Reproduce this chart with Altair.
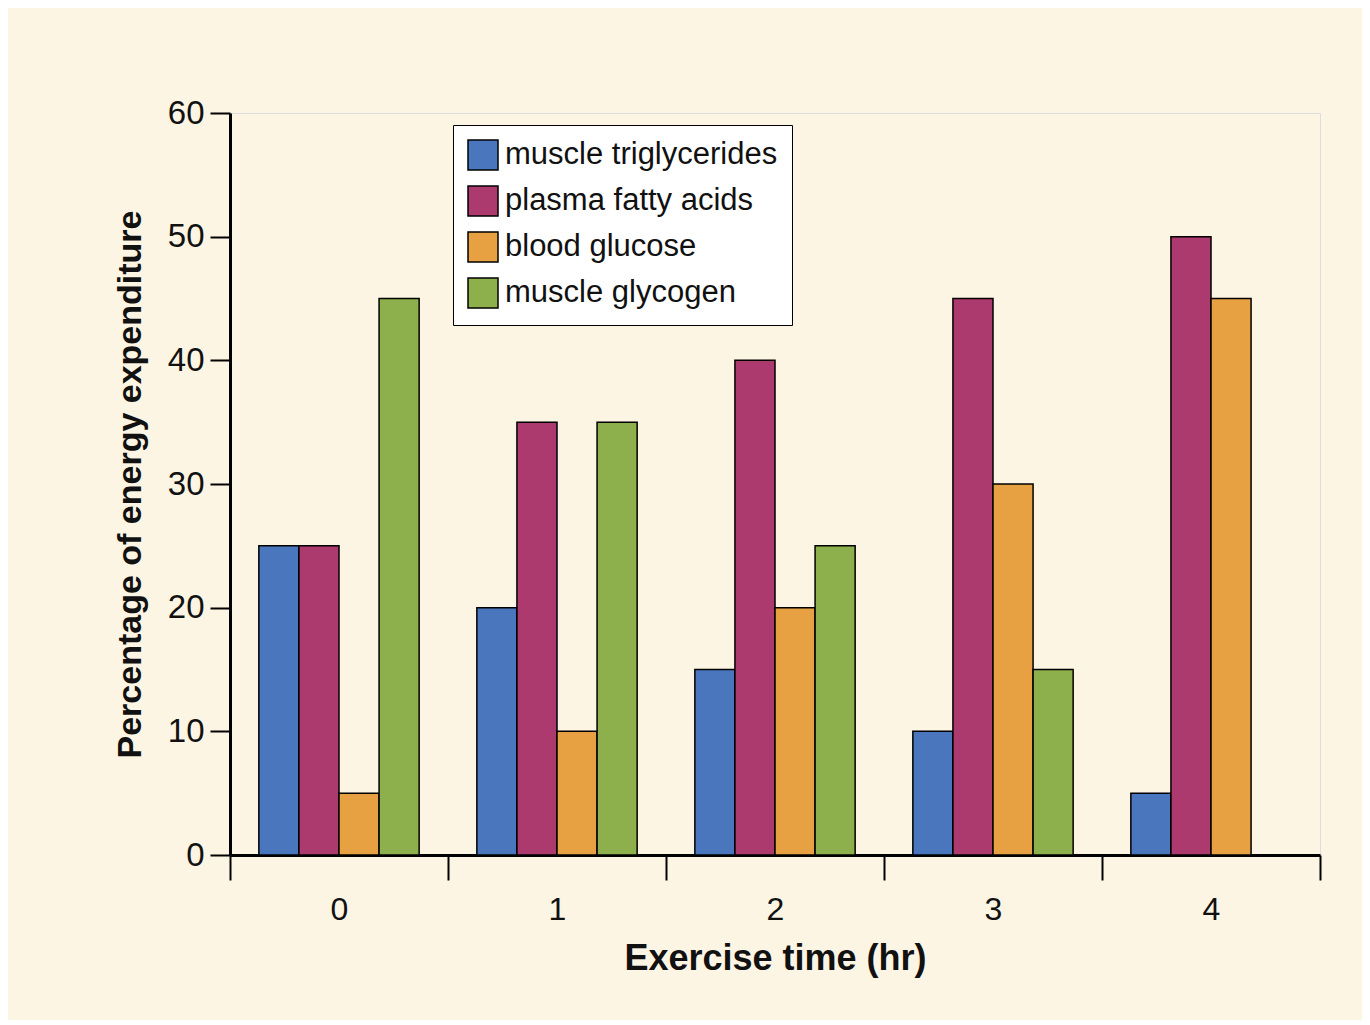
import pandas as pd
import altair as alt

hours = ["0", "1", "2", "3", "4"]
sources = ["muscle triglycerides", "plasma fatty acids", "blood glucose", "muscle glycogen"]
colors = ["#4a76bd", "#ad3a6f", "#e7a042", "#8db04c"]
triglycerides = [25, 20, 15, 10, 5]
fatty_acids = [25, 35, 40, 45, 50]
glucose = [5, 10, 20, 30, 45]
glycogen = [45, 35, 25, 15, None]

rows = []
for src, vals in zip(sources, [triglycerides, fatty_acids, glucose, glycogen]):
    for h, v in zip(hours, vals):
        rows.append({"hour": h, "source": src, "pct": v})
df = pd.DataFrame(rows)
df = df.dropna()

chart = alt.Chart(df).mark_bar(stroke="black", strokeWidth=1.5).encode(
    x=alt.X("hour:N", title="Exercise time (hr)",
            scale=alt.Scale(paddingInner=0, paddingOuter=0),
            axis=alt.Axis(labelAngle=0, tickBand="extent", tickSize=25, tickWidth=2,
                          domainWidth=3, domainColor="black", tickColor="black",
                          labelFontSize=32, labelPadding=14, titleFontSize=36,
                          titleFontWeight="bold", titlePadding=16)),
    xOffset=alt.XOffset("source:N", sort=sources,
                        scale=alt.Scale(paddingInner=0, paddingOuter=0.72)),
    y=alt.Y("pct:Q", title="Percentage of energy expenditure",
            scale=alt.Scale(domain=[0, 60]),
            axis=alt.Axis(values=[0, 10, 20, 30, 40, 50, 60], grid=False, tickSize=20,
                          tickWidth=2, domainWidth=3, domainColor="black", tickColor="black",
                          labelFontSize=33, labelPadding=6, titleFontSize=34,
                          titleFontWeight="bold", titlePadding=20)),
    color=alt.Color("source:N", sort=sources, title=None,
                    scale=alt.Scale(domain=sources, range=colors),
                    legend=alt.Legend(orient="none", legendX=223, legendY=12,
                                      fillColor="white", strokeColor="black",
                                      padding=14, symbolType="square", symbolSize=900,
                                      symbolStrokeColor="black", symbolStrokeWidth=1.5,
                                      labelFontSize=31, labelColor="#111", labelLimit=400,
                                      rowPadding=10, labelOffset=6)),
).properties(
    width=1090, height=742,
    autosize=alt.AutoSizeParams(type="none"),
    padding={"left": 222, "top": 105, "right": 42, "bottom": 165},
    background="#fdf5e4",
).configure_view(fill="white", stroke=None).configure(
    font="Liberation Sans"
).configure_axis(labelColor="#111", titleColor="#111")

chart.save("out.html", embed_options={"renderer": "svg", "actions": False})
